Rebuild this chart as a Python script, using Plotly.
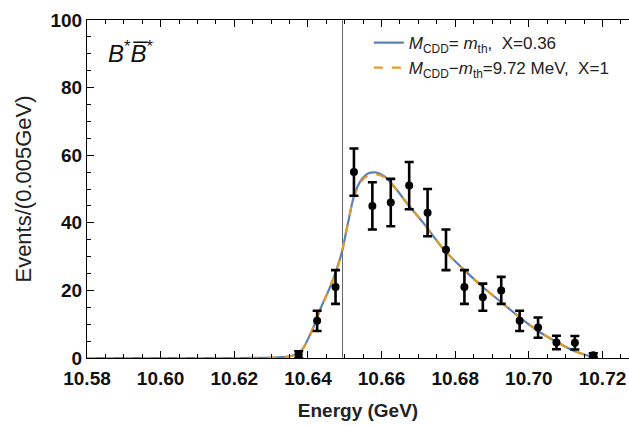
import plotly.graph_objects as go

# Data points (bin centres, events, errors)
bin_x = [10.6375, 10.6425, 10.6475, 10.6525, 10.6575, 10.6625, 10.6675, 10.6725,
         10.6775, 10.6825, 10.6875, 10.6925, 10.6975, 10.7025, 10.7075, 10.7125, 10.7175]
events = [1, 11, 21, 55, 45, 46, 51, 43, 32, 21, 18, 20, 11, 9, 4.6, 4.5, 0.8]
errors = [1, 3, 5, 7, 7, 7, 7, 7, 6, 5, 4, 4, 3, 3, 2, 2, 0.6]

# Curves
curve_x = [10.58, 10.60, 10.62, 10.628, 10.632, 10.6355, 10.6381, 10.6408, 10.6435, 10.6462,
           10.6489, 10.6507, 10.6525, 10.6543, 10.6563, 10.6584, 10.6606, 10.6633,
           10.6669, 10.6714, 10.677, 10.6825, 10.6875, 10.6925, 10.6975, 10.7025,
           10.7075, 10.7125, 10.7175]
curve_blue = [0, 0, 0, 0.05, 0.2, 0.6, 2.1, 7.4, 14.8, 21.5,
              30, 39, 47.8, 52.4, 54.6, 54.9, 53.9, 50.9,
              45.8, 39.9, 32, 26, 21, 16.5, 12, 8,
              4.8, 2, 0.3]
curve_orange = [0, 0, 0, 0.05, 0.2, 0.6, 2.0, 7.3, 14.7, 21.4,
                30, 39, 47.6, 52.0, 54.0, 54.3, 53.6, 50.7,
                45.7, 39.9, 32, 26, 21, 16.5, 12, 8,
                4.8, 2, 0.3]

threshold = 10.6494
x_range = [10.58, 10.7272]
y_range = [0, 100]
x_ticks = [10.58, 10.60, 10.62, 10.64, 10.66, 10.68, 10.70, 10.72]
y_ticks = [0, 20, 40, 60, 80, 100]

fig = go.Figure()

fig.add_trace(go.Scatter(
    x=curve_x, y=curve_blue, mode="lines", line=dict(color="#5E81B5", width=2.2, shape="spline"),
    name="<i>M</i><sub>CDD</sub>= <i>m</i><sub>th</sub>,  X=0.36", legendgroup="a"))
fig.add_trace(go.Scatter(
    x=curve_x, y=curve_orange, mode="lines",
    line=dict(color="#E19C24", width=2.2, dash="dash", shape="spline"),
    name="<i>M</i><sub>CDD</sub>−<i>m</i><sub>th</sub>=9.72 MeV,  X=1", legendgroup="b"))
fig.add_trace(go.Scatter(
    x=bin_x, y=events, mode="markers",
    marker=dict(color="black", size=8),
    error_y=dict(type="data", array=errors, color="black", thickness=2.6, width=4.5),
    showlegend=False))

fig.add_shape(type="line", x0=threshold, x1=threshold, y0=0, y1=1, xref="x", yref="paper",
              line=dict(color="#666666", width=1), layer="below")

fig.add_annotation(x=0.035, y=0.905, xref="paper", yref="paper", xanchor="left", yanchor="middle",
                   text="<i>B</i><sup>*</sup><i>B\u0305</i><sup>*</sup>", showarrow=False,
                   font=dict(family="Liberation Sans, Arial", size=24, color="#111111"))

axis_font = dict(family="Liberation Sans, Arial", size=19, color="#111111", weight="bold")

fig.update_xaxes(range=x_range, tickvals=x_ticks, tickformat=".2f",
                 ticks="inside", ticklen=7, tickwidth=1, tickcolor="black",
                 showline=True, linecolor="black", linewidth=1, mirror="ticks",
                 showgrid=False, zeroline=False, tickfont=axis_font, ticklabelstandoff=3,
                 minor=dict(dtick=0.005, ticks="inside", ticklen=4, tickcolor="black"),
                 title=dict(text="Energy (GeV)", standoff=15,
                            font=dict(family="Liberation Sans, Arial", size=19, color="#222222", weight="bold")))
fig.update_yaxes(range=y_range, tickvals=y_ticks,
                 ticks="inside", ticklen=7, tickwidth=1, tickcolor="black",
                 showline=True, linecolor="black", linewidth=1,
                 showgrid=False, zeroline=False, tickfont=axis_font,
                 minor=dict(dtick=5, ticks="inside", ticklen=4, tickcolor="black"),
                 title=dict(text="Events/(0.005GeV)", standoff=12,
                            font=dict(family="Liberation Sans, Arial", size=22, color="#222222")))

fig.update_layout(
    width=629, height=426,
    margin=dict(l=87, r=0, t=20, b=68),
    plot_bgcolor="white", paper_bgcolor="white",
    legend=dict(x=0.52, y=0.985, xanchor="left", yanchor="top", bgcolor="rgba(0,0,0,0)",
                font=dict(family="Liberation Sans, Arial", size=17, color="#222222"),
                tracegroupgap=9, traceorder="normal"),
)

fig.write_html("out.html")
